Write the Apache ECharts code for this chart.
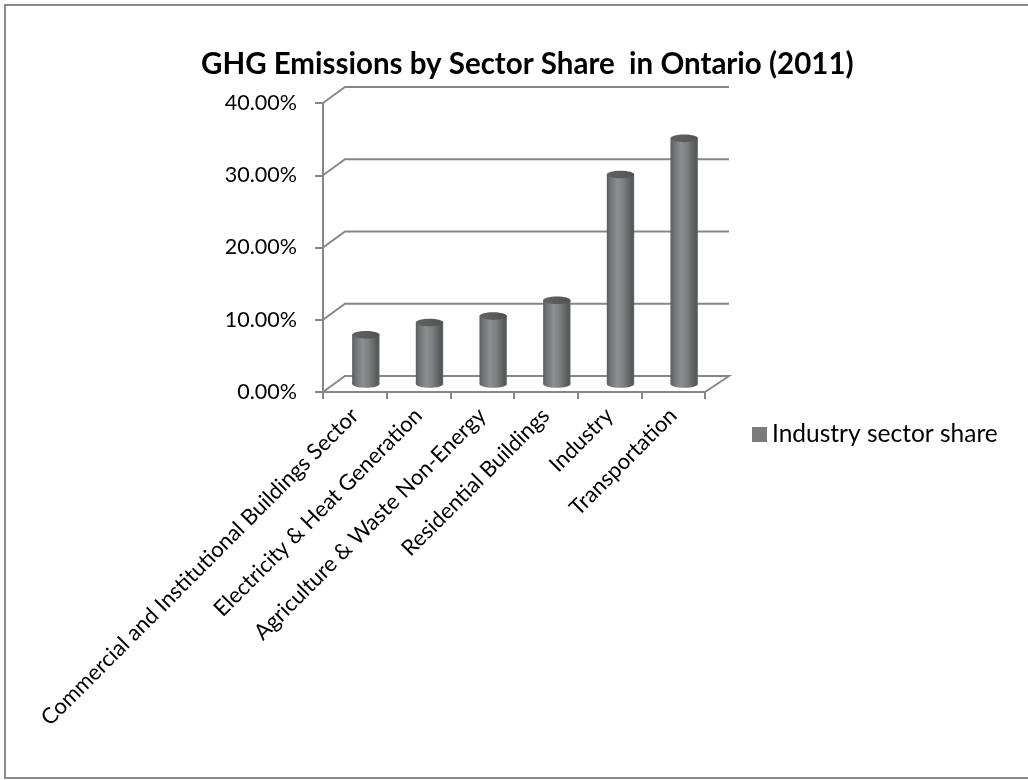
<!DOCTYPE html>
<html>
<head>
<meta charset="utf-8">
<script src="https://cdn.jsdelivr.net/npm/echarts@6/dist/echarts.min.js"></script>
<style>
  html, body { margin: 0; padding: 0; background: #ffffff; }
  #chart { width: 1028px; height: 780px; }
</style>
</head>
<body>
<div id="chart"></div>
<script>
// Sector shares of Ontario's 2011 greenhouse gas emissions (percent)
const categories = [
  'Commercial and Institutional Buildings Sector',
  'Electricity & Heat Generation',
  'Agriculture & Waste Non-Energy',
  'Residential Buildings',
  'Industry',
  'Transportation'
];
const shares = [6.8, 8.5, 9.4, 11.6, 29.0, 34.0];
const yTicks = [0, 10, 20, 30, 40];
const seriesName = 'Industry sector share';
const titleText = 'GHG Emissions by Sector Share  in Ontario (2011)';

// pseudo-3D depth: how far the back wall sits from the front axes
const DEPTH_X = 22;
const DEPTH_Y = -16;
const LINE_COLOR = '#878787';
const FONT = 'Lato, "Open Sans", sans-serif';

const chart = echarts.init(document.getElementById('chart'), null, { renderer: 'canvas' });

// back wall gridlines, the side-wall diagonals and the floor outline
function renderWalls(params, api) {
  const v = api.value(1);
  const half = api.size([1, 0])[0] / 2;
  const left = api.coord([0, v])[0] - half;
  const right = api.coord([categories.length - 1, v])[0] + half;
  const y = api.coord([0, v])[1];
  const pts = [[left, y], [left + DEPTH_X, y + DEPTH_Y], [right + DEPTH_X + 2, y + DEPTH_Y]];
  if (v === 0) pts.push([right, y]);
  return {
    type: 'polyline',
    shape: { points: pts },
    style: { stroke: LINE_COLOR, lineWidth: 2, fill: null }
  };
}

// one shaded cylinder per category, standing mid-way between front and back
function renderCylinder(params, api) {
  const idx = api.value(0);
  const val = api.value(1);
  const top = api.coord([idx, val]);
  const base = api.coord([idx, 0]);
  const band = api.size([1, 0])[0];
  const w = band * 0.43;
  const cx = top[0] + DEPTH_X / 2;
  const ty = top[1] + DEPTH_Y / 2;
  const by = base[1] + DEPTH_Y / 2;
  const ry = 3.8;
  const bodyFill = {
    type: 'linear', x: 0, y: 0, x2: 1, y2: 0,
    colorStops: [
      { offset: 0, color: '#5b5c5e' },
      { offset: 0.12, color: '#707173' },
      { offset: 0.38, color: '#8d8e90' },
      { offset: 0.62, color: '#7d7e80' },
      { offset: 0.86, color: '#5d5e60' },
      { offset: 0.94, color: '#56575a' },
      { offset: 1, color: '#68696b' }
    ]
  };
  const topFill = {
    type: 'linear', x: 0, y: 0, x2: 1, y2: 0,
    colorStops: [
      { offset: 0, color: '#606163' },
      { offset: 0.5, color: '#5a5b5d' },
      { offset: 1, color: '#505153' }
    ]
  };
  return {
    type: 'group',
    children: [
      { type: 'ellipse', shape: { cx: cx, cy: by, rx: w / 2, ry: ry }, style: { fill: bodyFill } },
      { type: 'rect', shape: { x: cx - w / 2, y: ty, width: w, height: by - ty }, style: { fill: bodyFill } },
      { type: 'ellipse', shape: { cx: cx, cy: ty, rx: w / 2, ry: ry }, style: { fill: topFill } }
    ]
  };
}

const option = {
  backgroundColor: '#ffffff',
  animation: false,
  title: {
    text: titleText,
    left: 196,
    top: 44,
    textStyle: { fontFamily: FONT, fontSize: 29.5, fontWeight: 'bold', color: '#000000' }
  },
  legend: {
    data: [{ name: seriesName, icon: 'rect' }],
    left: 747,
    top: 417,
    itemWidth: 15,
    itemHeight: 15,
    textStyle: { fontFamily: FONT, fontSize: 24.5, color: '#000000' }
  },
  grid: { left: 323, top: 103, width: 382, height: 289, containLabel: false },
  xAxis: {
    type: 'category',
    data: categories,
    boundaryGap: true,
    axisLine: { show: true, lineStyle: { color: LINE_COLOR, width: 2 } },
    axisTick: { show: true, length: 7, interval: 0, lineStyle: { color: LINE_COLOR, width: 2 } },
    axisLabel: {
      interval: 0, rotate: 45, margin: 20,
      fontFamily: FONT, fontSize: 22, color: '#000000'
    },
    splitLine: { show: false }
  },
  yAxis: {
    type: 'value',
    min: 0, max: 40, interval: 10,
    axisLine: { show: true, lineStyle: { color: LINE_COLOR, width: 2 } },
    axisTick: { show: true, length: 8, lineStyle: { color: LINE_COLOR, width: 2 } },
    axisLabel: {
      margin: 26, fontFamily: FONT, fontSize: 21.5, color: '#000000',
      formatter: function (v) { return v.toFixed(2) + '%'; }
    },
    splitLine: { show: false }
  },
  graphic: [{
    type: 'rect',
    shape: { x: 5, y: 5, width: 1040, height: 773 },
    style: { fill: null, stroke: '#8a8a8a', lineWidth: 2 },
    silent: true
  }],
  series: [
    {
      type: 'custom',
      name: 'walls',
      renderItem: renderWalls,
      data: yTicks.map(function (v) { return [0, v]; }),
      encode: { x: 0, y: 1 },
      z: 1,
      silent: true
    },
    {
      type: 'custom',
      name: seriesName,
      renderItem: renderCylinder,
      data: shares.map(function (v, i) { return [i, v]; }),
      encode: { x: 0, y: 1 },
      itemStyle: { color: '#7a7b7d' },
      z: 3
    }
  ]
};

chart.setOption(option);
</script>
</body>
</html>
